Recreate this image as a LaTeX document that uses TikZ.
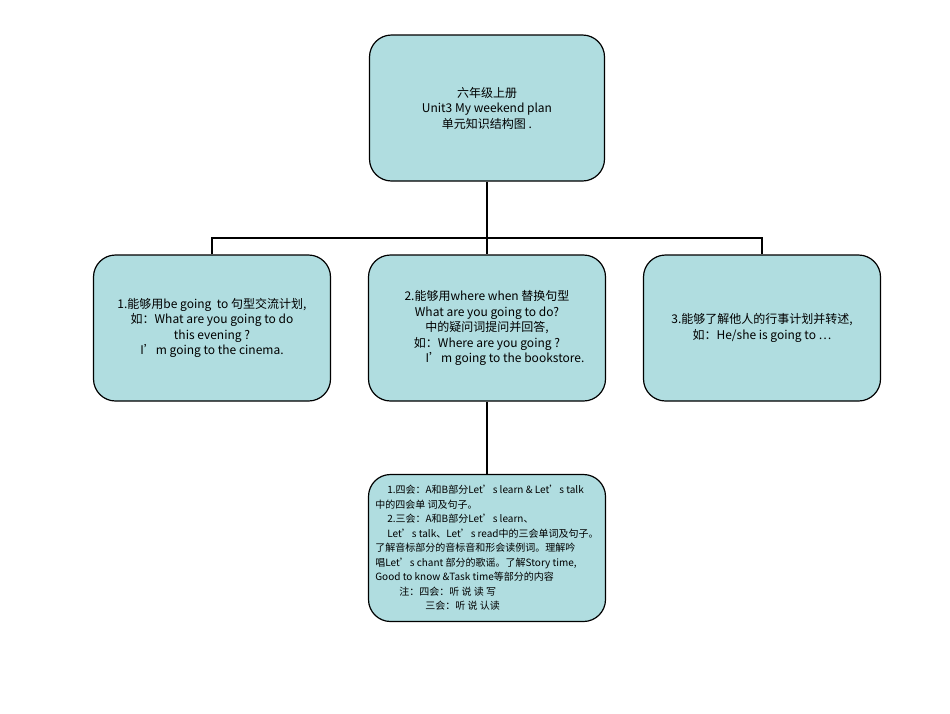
\documentclass[tikz,border=0pt]{standalone}
\usepackage{fontspec}
\setmainfont{Noto Sans CJK SC}
\begin{document}
\begin{tikzpicture}[x=1pt,y=-1pt,
  box/.style={draw=black,line width=1.2pt,fill={rgb,255:red,176;green,221;blue,224},rounded corners=22pt,align=center,inner sep=0pt,font=\fontsize{12}{15.5}\selectfont},
  conn/.style={line width=2pt}]
\useasboundingbox (0,0) rectangle (950,713);
\node[box,minimum width=235pt,minimum height=146pt] (top) at (487,108) {六年级上册\\Unit3 My weekend plan\\单元知识结构图 .};
\node[box,minimum width=237pt,minimum height=146pt] (l) at (212,328) {1.能够用be going\ \ to 句型交流计划,\\如：What are you going to do\\this evening ?\\I'm going to the cinema.};
\node[box,minimum width=237pt,minimum height=146pt] (m) at (487,328) {2.能够用where when 替换句型\\What are you going to do?\\中的疑问词提问并回答,\\如：Where are you going ?\\\hspace*{3em}I'm going to the bookstore.};
\node[box,minimum width=237pt,minimum height=146pt] (r) at (762,328) {3.能够了解他人的行事计划并转述,\\如：He/she is going to …};
\node[box,minimum width=237pt,minimum height=147pt,align=left,font=\fontsize{10}{14.5}\selectfont] (b) at (487,548) {\hspace*{1.2em}1.四会：A和B部分Let's learn \& Let's talk\\中的四会单 词及句子。\\\hspace*{1.2em}2.三会：A和B部分Let's learn、\\\hspace*{1.2em}Let's talk、Let's read中的三会单词及句子。\\了解音标部分的音标音和形会读例词。理解吟\\唱Let's chant 部分的歌谣。了解Story time,\\Good to know \&Task time等部分的内容\\\hspace*{2.4em}注：四会：听 说 读 写\\\hspace*{5em}三会：听 说 认读};
\coordinate (j) at (487,238);
\draw[conn] (top.south) -- (j);
\draw[conn] (l.north) |- (j) -| (r.north);
\draw[conn] (j) -- (m.north);
\draw[conn] (m.south) -- (b.north);
\end{tikzpicture}
\end{document}
